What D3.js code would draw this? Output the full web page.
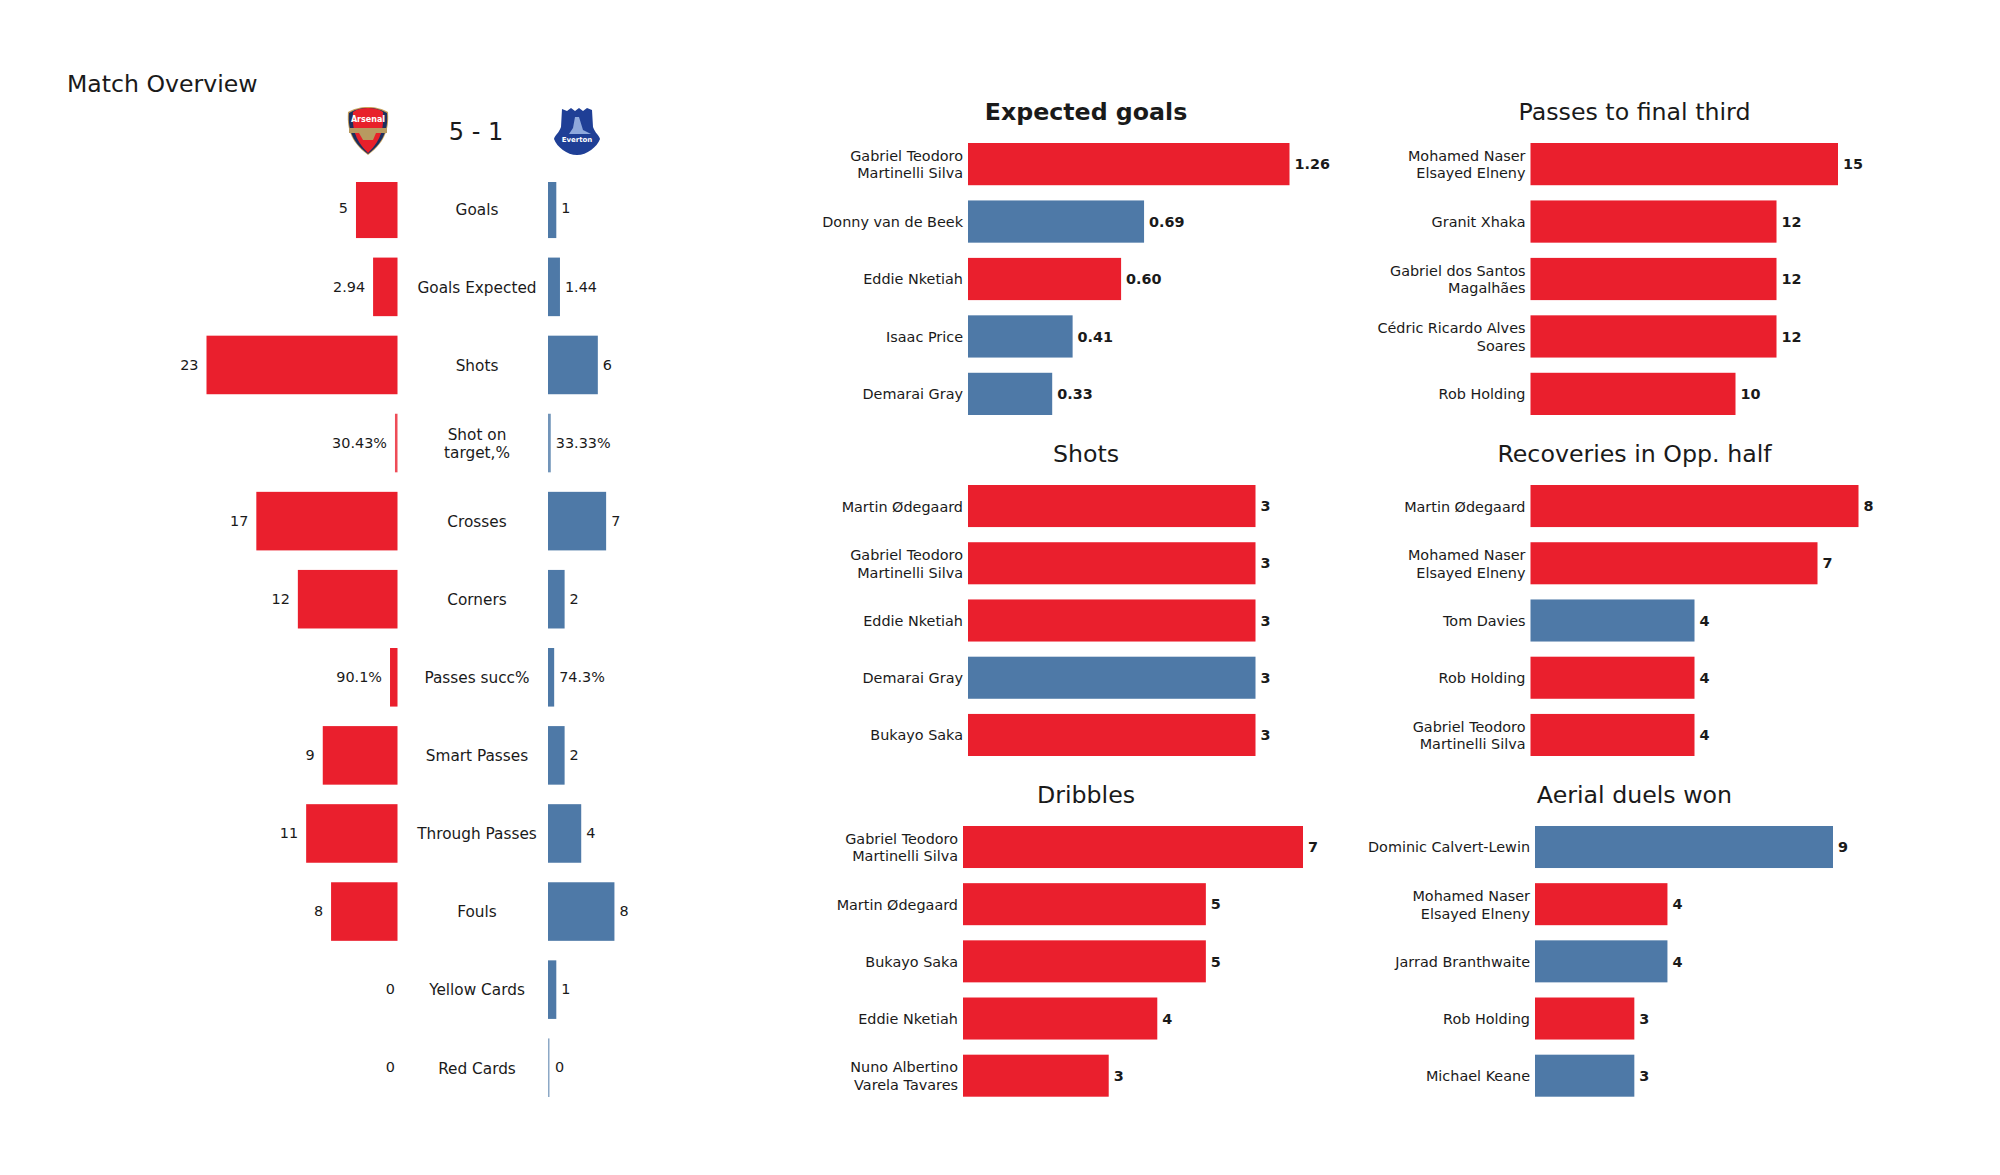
<!DOCTYPE html>
<html><head><meta charset="utf-8">
<script src="https://cdnjs.cloudflare.com/ajax/libs/d3/7.8.5/d3.min.js"></script>
<style>html,body{margin:0;padding:0;background:#fff}svg{display:block}text{font-family:"DejaVu Sans",sans-serif;fill:#1a1a1a}</style>
</head><body><svg id="c" width="2000" height="1175"></svg>
<script>
const RED="#ea1f2d", BLUE="#4e79a7";
const statLabels=["Goals","Goals Expected","Shots","Shot on|target,%","Crosses","Corners","Passes succ%","Smart Passes","Through Passes","Fouls","Yellow Cards","Red Cards"];
const homeBar=[5,2.94,23,0.3043,17,12,0.901,9,11,8,0,0];
const awayBar=[1,1.44,6,0.3333,7,2,0.743,2,4,8,1,0];
const homeText=["5","2.94","23","30.43%","17","12","90.1%","9","11","8","0","0"];
const awayText=["1","1.44","6","33.33%","7","2","74.3%","2","4","8","1","0"];

const xgNames=["Gabriel Teodoro|Martinelli Silva","Donny van de Beek","Eddie Nketiah","Isaac Price","Demarai Gray"];
const xgVals=[1.26,0.69,0.60,0.41,0.33];
const xgTeam=["h","a","h","a","a"];
const ftNames=["Mohamed Naser|Elsayed Elneny","Granit Xhaka","Gabriel dos Santos|Magalhães","Cédric Ricardo Alves|Soares","Rob Holding"];
const ftVals=[15,12,12,12,10];
const ftTeam=["h","h","h","h","h"];
const shNames=["Martin Ødegaard","Gabriel Teodoro|Martinelli Silva","Eddie Nketiah","Demarai Gray","Bukayo Saka"];
const shVals=[3,3,3,3,3];
const shTeam=["h","h","h","a","h"];
const recNames=["Martin Ødegaard","Mohamed Naser|Elsayed Elneny","Tom Davies","Rob Holding","Gabriel Teodoro|Martinelli Silva"];
const recVals=[8,7,4,4,4];
const recTeam=["h","h","a","h","h"];
const drNames=["Gabriel Teodoro|Martinelli Silva","Martin Ødegaard","Bukayo Saka","Eddie Nketiah","Nuno Albertino|Varela Tavares"];
const drVals=[7,5,5,4,3];
const drTeam=["h","h","h","h","h"];
const aeNames=["Dominic Calvert-Lewin","Mohamed Naser|Elsayed Elneny","Jarrad Branthwaite","Rob Holding","Michael Keane"];
const aeVals=[9,4,4,3,3];
const aeTeam=["a","h","a","h","a"];

const svg=d3.select("#c");
const teamCol=t=>t==="h"?RED:BLUE;

svg.append("defs").append("clipPath").attr("id","ov").append("rect").attr("x",0).attr("y",182).attr("width",900).attr("height",920);

/* ---------- overview ---------- */
svg.append("text").attr("x",67).attr("y",92).attr("font-size",23.6).text("Match Overview");
svg.append("text").attr("x",476).attr("y",139.5).attr("text-anchor","middle").attr("font-size",24).text("5 - 1");

const y=d3.scaleBand().domain(statLabels).range([179.5,1097]).paddingInner(0.25).paddingOuter(0);
const xH=d3.scaleLinear().domain([0,23]).range([397.5,206.5]);
const xA=d3.scaleLinear().domain([0,23]).range([548,739]);
const rows=svg.append("g");
statLabels.forEach((lab,i)=>{
  const g=rows.append("g"), cy=y(lab)+y.bandwidth()/2;
  const bars=g.append("g").attr("clip-path","url(#ov)");
  if(homeBar[i]>0) bars.append("rect").attr("x",xH(homeBar[i])).attr("y",y(lab)).attr("width",xH(0)-xH(homeBar[i])).attr("height",y.bandwidth()).attr("fill",RED).attr("fill-opacity",homeBar[i]<0.5?.8:1);
  bars.append("rect").attr("x",xA(0)).attr("y",y(lab)).attr("width",Math.max(xA(awayBar[i])-xA(0),1.5)).attr("height",y.bandwidth()).attr("fill",BLUE).attr("fill-opacity",awayBar[i]>0?(awayBar[i]<0.5?.8:1):.65);
  g.append("text").attr("x",homeBar[i]>0?xH(homeBar[i])-8:395).attr("y",cy-0.5).attr("dy","0.36em").attr("text-anchor","end").attr("font-size",14.4).text(homeText[i]);
  g.append("text").attr("x",xA(awayBar[i])+(awayBar[i]>0?5:7)).attr("y",cy-0.5).attr("dy","0.36em").attr("font-size",14.4).text(awayText[i]);
  const parts=lab.split("|");
  parts.forEach((p,k)=>g.append("text").attr("x",477).attr("y",cy+(k-(parts.length-1)/2)*18).attr("dy","0.38em").attr("text-anchor","middle").attr("font-size",15.3).text(p));
});

/* ---------- crests ---------- */
const ars=svg.append("g").attr("transform","translate(368,131)");
ars.append("path").attr("d","M0,-24 C8,-24 15,-22 20,-19 C21,-5 19,10 0,24 C-19,10 -21,-5 -20,-19 C-15,-22 -8,-24 0,-24Z").attr("fill","#c9a15a");
ars.append("path").attr("d","M0,-23 C8,-23 14,-21 19,-18 C20,-5 18,10 0,23 C-18,10 -20,-5 -19,-18 C-14,-21 -8,-23 0,-23Z").attr("fill","#1d2f5e");
ars.append("path").attr("d","M0,-23 C6,-23 11,-22 15,-19 C16,-5 14,9 0,22 C-14,9 -16,-5 -15,-19 C-11,-22 -6,-23 0,-23Z").attr("fill","#e8202a");
ars.append("rect").attr("x",-19).attr("y",-3).attr("width",38).attr("height",5).attr("fill","#b89a60");
ars.append("path").attr("d","M-9,2 L8,2 L5,9 L-5,9Z").attr("fill","#b89a60");
ars.append("text").attr("y",-9).attr("text-anchor","middle").attr("font-size",8).attr("font-weight","bold").style("fill","#fff").text("Arsenal");
const eve=svg.append("g").attr("transform","translate(577,131)");
eve.append("path").attr("d","M-15,-22 L-10,-20 L-6,-23 L-2,-20 L2,-23 L6,-20 L10,-23 L15,-21 L16,-4 C18,2 22,4 23,8 C20,16 10,24 0,24 C-10,24 -20,16 -23,8 C-22,4 -18,2 -16,-4Z").attr("fill","#1f3f96");
eve.append("path").attr("d","M-2,-14 L2,-14 L6,-1 L14,3 L-8,3 L-4,-3Z").attr("fill","#8fa9dc");
eve.append("text").attr("y",11).attr("text-anchor","middle").attr("font-size",7).attr("font-weight","bold").style("fill","#fff").text("Everton");

/* ---------- top-five panels ---------- */
function panel(title,names,vals,team,opt){
  const g=svg.append("g");
  g.append("text").attr("x",opt.tx).attr("y",opt.ty).attr("dy","0.36em").attr("text-anchor","middle").attr("font-size",23.7).attr("font-weight",opt.bold?"bold":"normal").text(title);
  const ys=d3.scaleBand().domain(d3.range(names.length)).range([opt.y0,opt.y0+opt.span]).paddingInner(0.265).paddingOuter(0);
  const xs=d3.scaleLinear().domain([0,opt.max]).range([opt.x0,opt.x1]);
  names.forEach((n,i)=>{
    const cy=ys(i)+ys.bandwidth()/2;
    g.append("rect").attr("x",xs(0)).attr("y",ys(i)).attr("width",xs(vals[i])-xs(0)).attr("height",ys.bandwidth()).attr("fill",teamCol(team[i]));
    g.append("text").attr("x",xs(vals[i])+5).attr("y",cy).attr("dy","0.36em").attr("font-size",14.4).attr("font-weight","bold").text(opt.fmt?opt.fmt(vals[i]):vals[i]);
    const parts=n.split("|");
    parts.forEach((p,k)=>g.append("text").attr("x",opt.x0-5).attr("y",cy+0.3+(k-(parts.length-1)/2)*17.8).attr("dy","0.36em").attr("text-anchor","end").attr("font-size",14.4).text(p));
  });
}
panel("Expected goals",xgNames,xgVals,xgTeam,{tx:1086,ty:111,bold:true,y0:143,span:272,x0:968,x1:1289.5,max:1.26,fmt:d3.format(".2f")});
panel("Passes to final third",ftNames,ftVals,ftTeam,{tx:1634.5,ty:111,y0:143,span:272,x0:1530.5,x1:1838,max:15});
panel("Shots",shNames,shVals,shTeam,{tx:1086,ty:453,y0:485,span:271,x0:968,x1:1255.5,max:3});
panel("Recoveries in Opp. half",recNames,recVals,recTeam,{tx:1634.5,ty:453,y0:485,span:271,x0:1530.5,x1:1858.5,max:8});
panel("Dribbles",drNames,drVals,drTeam,{tx:1086,ty:794,y0:826,span:270.7,x0:963,x1:1303,max:7});
panel("Aerial duels won",aeNames,aeVals,aeTeam,{tx:1634.5,ty:794,y0:826,span:270.7,x0:1535,x1:1833,max:9});
</script></body></html>
